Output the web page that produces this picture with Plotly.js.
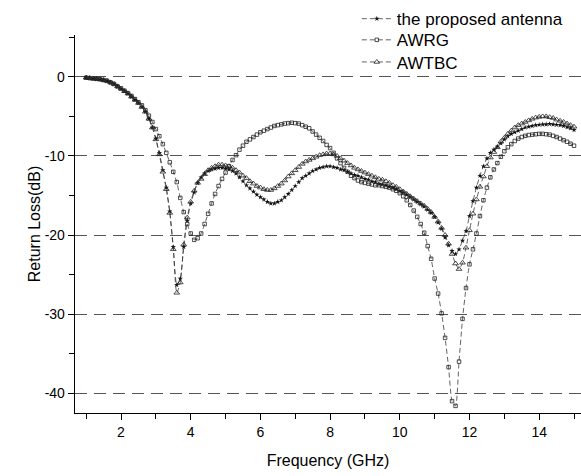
<!DOCTYPE html>
<html>
<head>
<meta charset="utf-8">
<script src="https://cdn.plot.ly/plotly-3.0.1.min.js"></script>
<style>html,body{margin:0;padding:0;background:#fff;}#chart{width:581px;height:476px;}</style>
</head>
<body>
<div id="chart"></div>
<script>
// Frequency axis (GHz), 1.0 .. 15.0 step 0.1
const freq = [];
for (let i = 0; i <= 140; i++) freq.push(+(1 + i * 0.1).toFixed(1));

const proposed = [
 -0.1,-0.15,-0.2,-0.25,-0.3,-0.4,-0.5,-0.7,-0.9,-1.2,
 -1.5,-1.8,-2.1,-2.5,-2.9,-3.3,-3.8,-4.4,-5.3,-6.4,
 -7.8,-9.6,-11.8,-14.0,-17.0,-21.5,-26.3,-25.5,-21.5,-18.2,
 -16.0,-14.6,-13.4,-12.7,-12.2,-11.9,-11.7,-11.6,-11.5,-11.5,
 -11.6,-11.7,-11.9,-12.2,-12.7,-13.2,-13.7,-14.1,-14.5,-14.9,
 -15.2,-15.5,-15.8,-16.0,-16.0,-15.8,-15.6,-15.2,-14.8,-14.3,
 -13.8,-13.3,-12.8,-12.5,-12.2,-11.9,-11.7,-11.5,-11.4,-11.3,
 -11.3,-11.4,-11.5,-11.7,-11.8,-12.0,-12.2,-12.4,-12.5,-12.7,
 -12.9,-13.0,-13.2,-13.3,-13.5,-13.6,-13.7,-13.9,-14.0,-14.2,
 -14.4,-14.6,-14.9,-15.2,-15.5,-15.8,-16.1,-16.4,-16.8,-17.2,
 -17.7,-18.4,-19.2,-20.3,-21.3,-22.0,-22.4,-21.8,-20.7,-19.5,
 -17.6,-15.7,-14.0,-12.5,-11.3,-10.3,-9.6,-9.2,-8.8,-8.4,
 -7.9,-7.5,-7.2,-7.0,-6.8,-6.6,-6.4,-6.3,-6.2,-6.1,
 -6.05,-6.0,-6.0,-5.95,-6.0,-6.05,-6.1,-6.2,-6.35,-6.5,
 -6.7
];

const awrg = [
 -0.1,-0.15,-0.2,-0.25,-0.3,-0.4,-0.5,-0.7,-0.9,-1.2,
 -1.45,-1.75,-2.05,-2.4,-2.8,-3.2,-3.6,-4.2,-4.9,-5.7,
 -6.6,-7.5,-8.5,-9.6,-10.8,-12.0,-13.3,-15.3,-17.1,-18.6,
 -19.8,-20.6,-20.4,-19.8,-18.6,-17.3,-16.0,-14.8,-13.8,-12.9,
 -12.1,-11.3,-10.5,-9.9,-9.2,-8.7,-8.2,-7.9,-7.6,-7.3,
 -7.0,-6.8,-6.6,-6.4,-6.2,-6.1,-6.0,-5.9,-5.85,-5.8,
 -5.85,-5.9,-6.1,-6.3,-6.5,-6.9,-7.3,-7.7,-8.1,-8.6,
 -9.0,-9.6,-10.3,-10.9,-11.5,-12.0,-12.5,-12.8,-13.1,-13.3,
 -13.4,-13.5,-13.6,-13.7,-13.7,-13.8,-13.9,-14.0,-14.2,-14.4,
 -14.7,-15.1,-15.6,-16.2,-16.9,-17.7,-18.6,-19.7,-21.4,-23.0,
 -25.5,-27.4,-29.9,-33.0,-36.7,-41.0,-41.6,-36.0,-30.6,-26.7,
 -23.7,-21.8,-19.8,-17.6,-15.6,-14.0,-12.7,-11.7,-10.9,-10.1,
 -9.4,-8.9,-8.5,-8.1,-7.8,-7.6,-7.45,-7.35,-7.3,-7.25,
 -7.2,-7.2,-7.25,-7.3,-7.45,-7.6,-7.8,-8.0,-8.2,-8.45,
 -8.7
];

const awtbc = [
 -0.1,-0.15,-0.2,-0.25,-0.3,-0.4,-0.5,-0.7,-0.9,-1.2,
 -1.5,-1.8,-2.1,-2.5,-2.9,-3.3,-3.8,-4.4,-5.3,-6.4,
 -7.9,-9.8,-12.0,-14.2,-17.2,-21.8,-27.3,-26.0,-21.2,-17.8,
 -15.8,-14.4,-13.4,-12.9,-12.3,-11.8,-11.5,-11.3,-11.1,-11.1,
 -11.2,-11.3,-11.5,-11.8,-12.1,-12.5,-12.8,-13.2,-13.5,-13.8,
 -14.0,-14.2,-14.3,-14.3,-14.1,-13.8,-13.5,-13.1,-12.6,-12.2,
 -11.8,-11.4,-11.0,-10.7,-10.5,-10.3,-10.1,-9.9,-9.8,-9.7,
 -9.7,-9.8,-10.0,-10.3,-10.6,-10.9,-11.2,-11.5,-11.7,-11.9,
 -12.1,-12.3,-12.5,-12.7,-12.9,-13.0,-13.2,-13.4,-13.7,-13.9,
 -14.2,-14.5,-14.8,-15.1,-15.4,-15.7,-16.0,-16.3,-16.7,-17.1,
 -17.7,-18.3,-19.1,-20.0,-21.1,-22.4,-23.6,-24.3,-23.5,-21.6,
 -19.4,-17.3,-15.5,-13.9,-12.6,-11.3,-10.2,-9.5,-8.9,-8.2,
 -7.7,-7.2,-6.8,-6.4,-6.1,-5.9,-5.7,-5.5,-5.3,-5.15,
 -5.05,-5.0,-5.0,-5.1,-5.2,-5.4,-5.55,-5.7,-5.9,-6.1,
 -6.3
];

const seriesNames = ["the proposed antenna", "AWRG", "AWTBC"];
const yTickVals = [0, -10, -20, -30, -40];
const yTickText = ["0", "-10", "-20", "-30", "-40"];

const font = "Arial, 'Liberation Sans', sans-serif";
const lineStyle = {color: "#3a3a3a", width: 0.8, dash: "5px,3px", shape: "spline", smoothing: 0.6};

const traces = [
  {x: freq, y: proposed, name: seriesNames[0], type: "scatter", mode: "lines+markers", legend: "legend",
   line: lineStyle, marker: {symbol: "star", size: 4, color: "#111"}},
  {x: freq, y: awrg, name: seriesNames[1], type: "scatter", mode: "lines+markers", legend: "legend2",
   line: lineStyle, marker: {symbol: "square-open", size: 3.5, color: "#222", line: {width: 0.8, color: "#222"}}},
  {x: freq, y: awtbc, name: seriesNames[2], type: "scatter", mode: "lines+markers", legend: "legend3",
   line: lineStyle, marker: {symbol: "triangle-up-open", size: 5, color: "#222", line: {width: 0.8, color: "#222"}}}
];

function leg(y) {
  return {x: 0.557, y: y, xanchor: "left", yanchor: "middle", bgcolor: "rgba(0,0,0,0)",
          font: {family: font, size: 17, color: "#000"}, itemwidth: 30};
}

const layout = {
  width: 581, height: 476,
  margin: {l: 75, r: 0, t: 35, b: 63, autoexpand: false},
  paper_bgcolor: "#fff", plot_bgcolor: "#fff",
  font: {family: font, color: "#000", size: 14},
  showlegend: true,
  legend: leg(1.042),
  legend2: leg(0.986),
  legend3: leg(0.9275),
  xaxis: {
    range: [0.68, 15.2], tick0: 0, dtick: 2, ticks: "outside", ticklen: 6, tickwidth: 1,
    tickcolor: "#000", showline: true, linecolor: "#000", linewidth: 1.3, showgrid: false,
    zeroline: false, tickfont: {size: 14, family: font},
    minor: {dtick: 1, ticks: "outside", ticklen: 5, tickcolor: "#000", tickwidth: 1, showgrid: false},
    title: {text: "Frequency (GHz)", font: {size: 16, family: font}, standoff: 15}
  },
  yaxis: {
    range: [-42.5, 5.3], tickmode: "array", tickvals: yTickVals, ticktext: yTickText,
    ticks: "outside", ticklen: 6, tickwidth: 1,
    tickcolor: "#000", showline: true, linecolor: "#000", linewidth: 1.3,
    showgrid: true, gridcolor: "#555", gridwidth: 1, griddash: "12px,7px",
    zeroline: false, tickfont: {size: 14, family: font},
    minor: {tickmode: "linear", tick0: 5, dtick: 10, ticks: "outside", ticklen: 5, tickcolor: "#000", tickwidth: 1, showgrid: false},
    title: {text: "Return Loss(dB)", font: {size: 16, family: font}, standoff: 0}
  }
};

Plotly.newPlot("chart", traces, layout, {staticPlot: true, displayModeBar: false});
</script>
</body>
</html>
